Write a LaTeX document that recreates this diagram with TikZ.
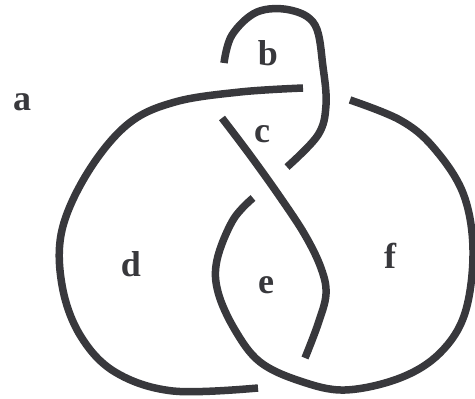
\documentclass[tikz,border=0pt]{standalone}
\usepackage{fontspec}
\setmainfont{Liberation Serif}
\usepackage{tikz}
\definecolor{ink}{HTML}{38383C}

\begin{document}
\begin{tikzpicture}[x=1pt,y=-1pt,
    strand/.style={draw=ink,line width=7.5pt,line cap=butt,line join=round},
    region/.style={text=ink,font=\fontsize{36}{36}\selectfont\bfseries,inner sep=0pt}]
    \useasboundingbox (0,0) rectangle (475,399);
    % the four arcs of the knot
    \draw[strand] plot[smooth,tension=0.6] coordinates {(303,88) (240,92) (175,102) (128,124) (88,172) (62,230) (62,285) (80,335) (115,372) (173,391) (258,388)};
    \draw[strand] plot[smooth,tension=0.6] coordinates {(224,63) (232,35) (257,12) (290,10) (315,25) (323,67) (326,105) (318,135) (287,167)};
    \draw[strand] plot[smooth,tension=0.6] coordinates {(222,118) (250,155) (280,197) (305,235) (321,268) (326,294) (318,324) (305,358)};
    \draw[strand] plot[smooth,tension=0.6] coordinates {(253,198) (233,220) (217,260) (218,292) (235,330) (260,362) (300,381) (345,390) (400,378) (440,353) (465,313) (473,250) (463,193) (433,147) (400,120) (350,100)};
    % region labels
    \node[region] (a) at (22,102) {a};
    \node[region] (b) at (268,53) {b};
    \node[region] (c) at (262,134) {c};
    \node[region] (d) at (131,264) {d};
    \node[region] (e) at (266,285) {e};
    \node[region] (f) at (390,256) {f};
\end{tikzpicture}
\end{document}
